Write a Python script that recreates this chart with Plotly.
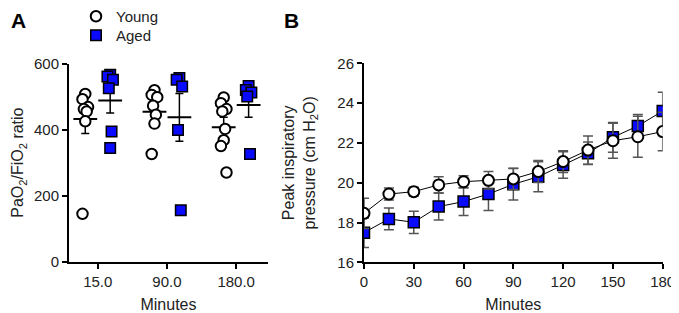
import plotly.graph_objects as go

# ---- Panel A data ----
time_cats = ["15.0", "90.0", "180.0"]
young_15 = [508, 492, 468, 462, 455, 425, 145]
young_90 = [519, 505, 498, 472, 445, 418, 326]
young_180 = [497, 480, 462, 455, 402, 368, 350, 270]
aged_15 = [566, 561, 551, 525, 394, 344]
aged_90 = [556, 551, 530, 399, 156]
aged_180 = [532, 520, 512, 500, 326]
young_mean_A = [432, 454, 407]
young_sem_A = [44, 30, 30]
aged_mean_A = [488, 437, 474]
aged_sem_A = [38, 72, 37]

# ---- Panel B data ----
minutes = [0, 15, 30, 45, 60, 75, 90, 105, 120, 135, 150, 165, 180]
young_pip = [18.46, 19.43, 19.55, 19.89, 20.05, 20.12, 20.19, 20.56, 21.06, 21.64, 22.11, 22.31, 22.57]
young_pip_err = [0.76, 0.30, 0.22, 0.41, 0.30, 0.44, 0.53, 0.55, 0.55, 0.71, 0.88, 1.03, 0.97]
aged_pip = [17.49, 18.18, 18.01, 18.80, 19.05, 19.43, 19.92, 20.30, 20.89, 21.48, 22.28, 22.85, 23.60]
aged_pip_err = [0.74, 0.55, 0.56, 0.68, 0.70, 0.83, 0.79, 0.75, 0.67, 0.57, 0.75, 0.58, 0.95]

BLUE = "#0a0aff"
FONT = "Liberation Sans, Arial, sans-serif"
JIT = [0.0, -0.04, 0.04, -0.02, 0.02, 0.0, -0.04, 0.04]

# page offset (browser body margin) compensation, in px
OX, OY = 8, 8
W, H = 679, 313


def px_x(p):
    return (p - OX) / W


def px_y(p):
    return 1 - (p - OY) / H


fig = go.Figure()

young_groups = [young_15, young_90, young_180]
aged_groups = [aged_15, aged_90, aged_180]
OFF = 0.18

# mean + SEM (drawn beneath points)
fig.add_trace(go.Scatter(
    x=[i - OFF for i in range(3)], y=young_mean_A, mode="markers",
    marker=dict(symbol="line-ew", size=17, line=dict(width=2, color="black")),
    error_y=dict(type="data", array=young_sem_A, color="black", thickness=1.5, width=4),
    showlegend=False, xaxis="x", yaxis="y", hoverinfo="skip"))
fig.add_trace(go.Scatter(
    x=[i + OFF for i in range(3)], y=aged_mean_A, mode="markers",
    marker=dict(symbol="line-ew", size=17, line=dict(width=2, color="black")),
    error_y=dict(type="data", array=aged_sem_A, color="black", thickness=1.5, width=4),
    showlegend=False, xaxis="x", yaxis="y", hoverinfo="skip"))

xs, ys = [], []
for i, g in enumerate(young_groups):
    for j, v in enumerate(g):
        xs.append(i - OFF + JIT[j % len(JIT)])
        ys.append(v)
fig.add_trace(go.Scatter(
    x=xs, y=ys, mode="markers", name="Young", legend="legend",
    marker=dict(symbol="circle", size=10.5, color="white", line=dict(width=2, color="black")),
    xaxis="x", yaxis="y"))
xs, ys = [], []
for i, g in enumerate(aged_groups):
    for j, v in enumerate(g):
        xs.append(i + OFF + JIT[j % len(JIT)])
        ys.append(v)
fig.add_trace(go.Scatter(
    x=xs, y=ys, mode="markers", name="Aged", legend="legend2",
    marker=dict(symbol="square", size=10.5, color=BLUE, line=dict(width=1.5, color="black")),
    xaxis="x", yaxis="y"))

# Panel B
fig.add_trace(go.Scatter(
    x=minutes, y=aged_pip, mode="lines+markers",
    line=dict(color="black", width=1),
    marker=dict(symbol="square", size=11, color=BLUE, line=dict(width=1.5, color="black")),
    error_y=dict(type="data", array=aged_pip_err, color="#555555", thickness=1.5, width=5),
    showlegend=False, xaxis="x2", yaxis="y2"))
fig.add_trace(go.Scatter(
    x=minutes, y=young_pip, mode="lines+markers",
    line=dict(color="black", width=1),
    marker=dict(symbol="circle", size=11, color="white", line=dict(width=2, color="black")),
    error_y=dict(type="data", array=young_pip_err, color="#555555", thickness=1.5, width=5),
    showlegend=False, xaxis="x2", yaxis="y2"))

axis_common = dict(showline=True, linecolor="black", linewidth=2, ticks="outside",
                   ticklen=5, tickwidth=2, tickcolor="black", showgrid=False, zeroline=False,
                   automargin=False,
                   tickfont=dict(size=15, color="#222", family=FONT))

leg_common = dict(xanchor="left", yanchor="top", font=dict(size=15, color="#222"),
                  bgcolor="rgba(0,0,0,0)", itemwidth=30)

fig.update_layout(
    width=W, height=H, margin=dict(l=0, r=0, t=0, b=0, autoexpand=False),
    plot_bgcolor="white", paper_bgcolor="white",
    font=dict(family=FONT, color="#222"),
    xaxis=dict(domain=[px_x(69), px_x(268)], range=[-0.415, 2.46],
               tickvals=[0, 1, 2], ticktext=time_cats,
               title=dict(text="Minutes", font=dict(size=16), standoff=10),
               anchor="y", **axis_common),
    yaxis=dict(domain=[px_y(261.7), px_y(63.5)], range=[0, 600],
               tickvals=[0, 200, 400, 600],
               title=dict(text="PaO<sub>2</sub>/FiO<sub>2</sub> ratio", font=dict(size=16), standoff=6),
               anchor="x", **axis_common),
    xaxis2=dict(domain=[px_x(364), px_x(662.7)], range=[0, 180],
                tickvals=[0, 30, 60, 90, 120, 150, 180],
                title=dict(text="Minutes", font=dict(size=16), standoff=10),
                anchor="y2", **axis_common),
    yaxis2=dict(domain=[px_y(262.3), px_y(63.3)], range=[16, 26],
                tickvals=[16, 18, 20, 22, 24, 26],
                title=dict(text="Peak inspiratory<br>pressure (cm H<sub>2</sub>O)", font=dict(size=16), standoff=18),
                anchor="x2", **axis_common),
    legend=dict(x=px_x(76), y=px_y(0), **leg_common),
    legend2=dict(x=px_x(76), y=px_y(19), **leg_common),
    annotations=[
        dict(text="<b>A</b>", x=px_x(9), y=px_y(21), xref="paper", yref="paper",
             xanchor="left", yanchor="middle", showarrow=False, font=dict(size=21, color="black")),
        dict(text="<b>B</b>", x=px_x(282), y=px_y(21), xref="paper", yref="paper",
             xanchor="left", yanchor="middle", showarrow=False, font=dict(size=21, color="black")),
    ],
)

fig.write_html("out.html")
